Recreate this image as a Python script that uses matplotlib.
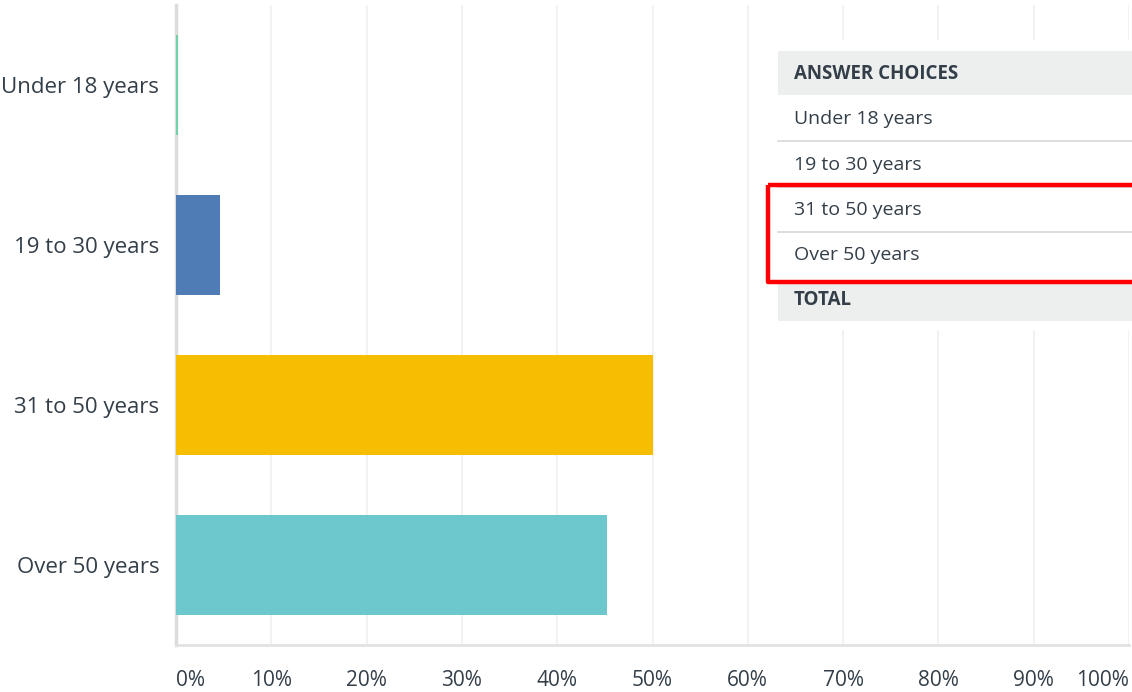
import matplotlib.pyplot as plt
from matplotlib.patches import Rectangle

#data
categories = ['Under 18 years', '19 to 30 years', '31 to 50 years', 'Over 50 years']
percent = [0.2, 4.6, 50.0, 45.2]
bar_colors = ['#72d3ab', '#507cb6', '#f7bd00', '#6cc8cc']
tick_vals = [0, 10, 20, 30, 40, 50, 60, 70, 80, 90, 100]
tick_labels = ['0%', '10%', '20%', '30%', '40%', '50%', '60%', '70%', '80%', '90%', '100%']
table_header = 'ANSWER CHOICES'
table_rows = ['Under 18 years', '19 to 30 years', '31 to 50 years', 'Over 50 years']
table_total = 'TOTAL'

plt.rcParams['font.family'] = ['Open Sans', 'DejaVu Sans']
txt = '#333e48'
W, H = 1132, 692

fig = plt.figure(figsize=(W / 100, H / 100), dpi=100)
ax = fig.add_axes([176 / W, 1 - 645 / H, (1129 - 176) / W, 640 / H])

y = list(range(len(categories)))
ax.barh(y, percent, height=0.625, color=bar_colors, zorder=3)
ax.set_ylim(3.5, -0.5)
ax.set_xlim(0, 100)

#grid
for v in tick_vals[1:]:
    ax.axvline(v, color='#f2f2f2', lw=1.5, zorder=1)

for s in ['top', 'right']:
    ax.spines[s].set_visible(False)
ax.spines['left'].set_color('#dcdcdc')
ax.spines['left'].set_linewidth(2.5)
ax.spines['bottom'].set_color('#e2e2e2')
ax.spines['bottom'].set_linewidth(2)

ax.set_yticks(y)
ax.set_yticklabels(categories, fontsize=16, color=txt)
ax.tick_params(axis='y', length=0, pad=12)
ax.set_xticks(tick_vals)
ax.set_xticklabels(tick_labels, fontsize=15, color=txt)
ax.tick_params(axis='x', length=0, pad=18)
xl = ax.get_xticklabels()
xl[0].set_ha('left')
xl[-1].set_ha('right')

#table overlay (pixel coords)
ov = fig.add_axes([0, 0, 1, 1])
ov.set_xlim(0, W)
ov.set_ylim(H, 0)
ov.axis('off')
ov.add_patch(Rectangle((760, 40), W - 760, 290, facecolor='white', edgecolor='none', zorder=1))
ov.add_patch(Rectangle((778, 51), W - 778, 44, facecolor='#edeeee', edgecolor='none', zorder=2))
ov.add_patch(Rectangle((778, 283), W - 778, 38, facecolor='#edeeee', edgecolor='none', zorder=2))
for ly in [141, 187, 232]:
    ov.plot([778, W], [ly, ly], color='#d8d8d8', lw=1.2, zorder=2)
ov.text(794, 74, table_header, fontsize=13.5, fontweight='bold', color=txt, va='center', zorder=3)
for ty, label in zip([119, 165, 210, 255], table_rows):
    ov.text(794, ty, label, fontsize=14, color=txt, va='center', zorder=3)
ov.text(794, 300, table_total, fontsize=13.5, fontweight='bold', color=txt, va='center', zorder=3)
ov.add_patch(Rectangle((768, 185), 400, 97, facecolor='none', edgecolor='#ff0000', lw=3.2,
                       joinstyle='round', zorder=4))

fig.savefig('out.png', dpi=100)
